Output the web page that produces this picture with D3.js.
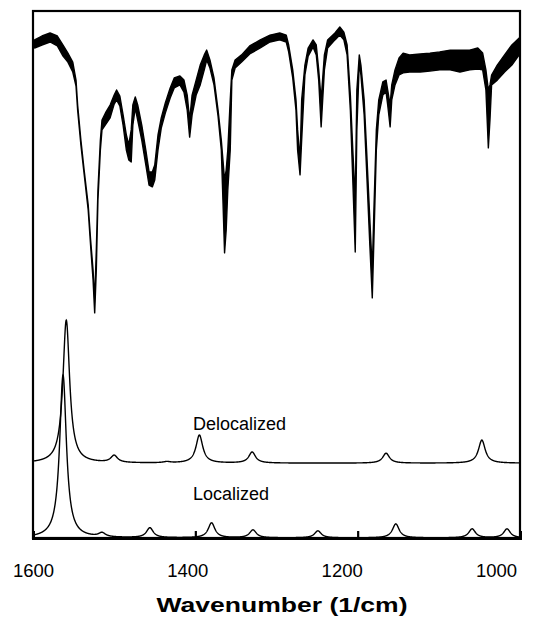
<!DOCTYPE html>
<html>
<head>
<meta charset="utf-8">
<script src="https://cdn.jsdelivr.net/npm/d3@7/dist/d3.min.js"></script>
<style>
  body { margin: 0; background: #fff; overflow: hidden; }
  svg { display: block; }
  svg text { font-family: Arial, "Liberation Sans", Helvetica, sans-serif; fill: #000; }
</style>
</head>
<body>
<div id="chart"></div>
<script>
// Measured IR spectrum, read off the scan. The trace is a noisy band,
// so keep its upper and lower edge (in % transmittance).
var irWavenumber = [1598, 1589, 1579, 1570, 1563, 1557, 1551, 1547, 1545, 1541,
  1537, 1532, 1529, 1526, 1524, 1522, 1520, 1517, 1515, 1510,
  1505, 1500, 1497, 1493, 1489, 1485, 1482, 1479, 1477, 1474,
  1471, 1466, 1461, 1457, 1453, 1450, 1446, 1442, 1437, 1431,
  1426, 1419, 1414, 1410, 1407, 1404, 1399, 1394, 1389, 1386,
  1382, 1377, 1372, 1368, 1366, 1364, 1362, 1360, 1357, 1355,
  1351, 1343, 1333, 1320, 1308, 1296, 1288, 1285, 1280, 1276,
  1274, 1271, 1269, 1265, 1261, 1255, 1251, 1248, 1245, 1241,
  1237, 1228, 1222, 1217, 1213, 1209, 1206, 1203, 1201, 1198,
  1196, 1192, 1189, 1185, 1182, 1180, 1177, 1174, 1169, 1165,
  1163, 1160, 1158, 1154, 1149, 1144, 1136, 1123, 1111, 1099,
  1086, 1074, 1062, 1052, 1046, 1042, 1039, 1037, 1035, 1028,
  1019, 1010, 1001];
var irUpper = [96.7, 98.0, 99.0, 98.0, 95.0, 92.3, 89.3, 83.3, 75.0, 63.3,
  53.3, 41.7, 30.0, 20.0, 10.0, 26.7, 46.7, 63.3, 70.0, 72.7,
  75.0, 78.3, 80.0, 78.0, 71.7, 65.0, 61.7, 66.7, 75.0, 77.7,
  75.0, 68.3, 60.0, 52.7, 52.7, 55.0, 65.0, 70.7, 75.7, 80.7,
  84.0, 84.7, 83.3, 78.3, 70.0, 78.3, 83.3, 88.3, 91.7, 93.3,
  90.0, 84.0, 73.3, 63.3, 56.7, 50.0, 53.3, 60.0, 76.7, 86.7,
  90.0, 91.7, 94.7, 96.7, 98.3, 99.0, 98.3, 95.0, 86.7, 76.7,
  66.7, 56.7, 76.7, 88.3, 94.0, 96.7, 95.0, 86.7, 76.7, 91.7,
  96.7, 99.0, 101.0, 99.3, 95.0, 78.3, 60.0, 43.3, 80.0, 91.7,
  88.3, 76.7, 60.0, 36.7, 20.0, 40.0, 66.7, 76.7, 82.7, 83.3,
  80.0, 75.0, 81.7, 86.7, 90.7, 92.3, 91.7, 92.0, 92.3, 92.7,
  93.3, 93.3, 93.3, 94.0, 92.3, 86.7, 80.0, 81.7, 85.0, 88.3,
  91.7, 95.0, 97.3];
var irLower = [94.0, 95.0, 96.0, 94.7, 91.3, 89.3, 86.0, 81.3, 73.3, 61.7,
  52.0, 40.0, 28.0, 16.7, 5.7, 20.0, 43.3, 60.0, 66.7, 68.7,
  70.7, 75.3, 76.7, 74.7, 68.3, 60.0, 56.7, 56.0, 68.3, 74.0,
  70.0, 63.3, 55.0, 48.3, 47.7, 50.0, 60.0, 67.3, 72.3, 77.3,
  80.7, 81.7, 79.3, 73.3, 64.3, 71.7, 78.3, 81.7, 86.7, 90.0,
  87.3, 81.7, 71.3, 60.0, 43.3, 25.7, 33.3, 46.7, 60.0, 83.3,
  87.3, 89.3, 92.0, 94.0, 96.0, 96.7, 96.0, 92.7, 84.0, 73.3,
  60.0, 51.7, 63.3, 85.0, 91.3, 94.3, 91.7, 83.3, 67.7, 86.7,
  94.0, 96.7, 98.3, 96.7, 91.7, 73.3, 50.0, 26.0, 66.7, 89.3,
  85.0, 71.7, 53.3, 28.3, 10.7, 30.0, 60.0, 71.7, 78.3, 79.3,
  75.0, 67.7, 76.7, 81.7, 85.0, 85.7, 86.0, 86.0, 86.3, 86.7,
  86.7, 86.0, 86.7, 87.0, 86.7, 80.0, 60.7, 70.0, 81.7, 83.3,
  86.0, 88.3, 91.7];

// Computed spectra: peak positions (1/cm) and intensities (arb. units)
var delocPeaks   = [1559, 1500, 1435, 1395, 1330, 1165, 1047];
var delocHeights = [65, 3.2, 0.5, 12.7, 5.0, 4.5, 10.5];
var locPeaks     = [1563, 1515, 1456, 1380, 1329, 1249, 1153, 1059, 1016];
var locHeights   = [74, 1.8, 4.5, 6.8, 3.6, 3.2, 6.4, 4.1, 4.1];
var delocOffset = 34;   // vertical offset of the delocalized trace
var halfWidth = 5;      // lorentzian half width (1/cm)

var xTicks = [1600, 1400, 1200, 1000];

// note: "top" is taken by window.top, so use plot* names
var width = 545, height = 618
  , plotLeft = 33, plotRight = 520, plotTop = 11, plotBottom = 538;

var svg = d3.select("#chart").append("svg")
    .attr("width", width)
    .attr("height", height);

var x = d3.scaleLinear().domain([1600, 1000]).range([plotLeft, plotRight]);
// tick numbers sit a little left of their ticks in the original
var xLabel = d3.scaleLinear().domain([1600, 1000]).range([33, 496]);
var yIR = d3.scaleLinear().domain([0, 100]).range([330, 30]);
var ySim = d3.scaleLinear().domain([0, 100]).range([plotBottom, 318]);

// sum of lorentzians for a peak list
function spectrum(peaks, heights, offset) {
  return d3.range(1600, 999.75, -0.25).map(function(w) {
    var s = offset;
    peaks.forEach(function(p, i) {
      var u = (w - p) / halfWidth;
      s += heights[i] / (1 + u * u);
    });
    return [w, s];
  });
}

svg.append("clipPath").attr("id", "plot-clip")
  .append("rect")
    .attr("x", plotLeft).attr("y", plotTop)
    .attr("width", plotRight - plotLeft).attr("height", plotBottom - plotTop);

var plot = svg.append("g").attr("clip-path", "url(#plot-clip)");

// IR trace drawn as a filled band
var irData = irWavenumber.map(function(w, i) {
  return { w: w, hi: irUpper[i], lo: irLower[i] };
});
plot.append("path")
    .datum(irData)
    .attr("d", d3.area()
      .x(function(d) { return x(d.w); })
      .y0(function(d) { return yIR(d.lo); })
      .y1(function(d) { return yIR(d.hi); }))
    .attr("fill", "#000")
    .attr("stroke", "#000")
    .attr("stroke-width", 1.4)
    .attr("stroke-linejoin", "round");

var simLine = d3.line()
    .x(function(d) { return x(d[0]); })
    .y(function(d) { return ySim(d[1]); });

plot.append("path")
    .datum(spectrum(delocPeaks, delocHeights, delocOffset))
    .attr("d", simLine)
    .attr("fill", "none")
    .attr("stroke", "#000")
    .attr("stroke-width", 1.4);

plot.append("path")
    .datum(spectrum(locPeaks, locHeights, 0))
    .attr("d", simLine)
    .attr("fill", "none")
    .attr("stroke", "#000")
    .attr("stroke-width", 1.4);

svg.append("text")
    .attr("x", 193).attr("y", 430)
    .style("font-size", "18px")
    .text("Delocalized");

svg.append("text")
    .attr("x", 193).attr("y", 500)
    .style("font-size", "18px")
    .text("Localized");

// frame
svg.append("rect")
    .attr("x", plotLeft).attr("y", plotTop)
    .attr("width", plotRight - plotLeft).attr("height", plotBottom - plotTop)
    .attr("fill", "none")
    .attr("stroke", "#000")
    .attr("stroke-width", 2.2);

// inward ticks on the bottom axis
var ticks = svg.append("g")
    .attr("transform", "translate(0," + plotBottom + ")")
    .call(d3.axisBottom(x).tickValues(xTicks).tickSize(-7).tickFormat(""));
ticks.select(".domain")
    .attr("stroke-width", 3);
ticks.selectAll(".tick line")
    .attr("stroke-width", 2.2);

var labels = svg.append("g")
    .attr("transform", "translate(0," + plotBottom + ")")
    .call(d3.axisBottom(xLabel).tickValues(xTicks).tickSize(0).tickPadding(26)
      .tickFormat(d3.format("d")));
labels.select(".domain").remove();
labels.selectAll("text")
    .style("font-size", "18.5px")
    .style("font-family", "Arial, 'Liberation Sans', sans-serif");

svg.append("text")
    .attr("x", 282).attr("y", 612)
    .attr("text-anchor", "middle")
    .style("font-size", "21px")
    .style("font-weight", "bold")
    .attr("textLength", 251)
    .attr("lengthAdjust", "spacingAndGlyphs")
    .text("Wavenumber (1/cm)");
</script>
</body>
</html>
